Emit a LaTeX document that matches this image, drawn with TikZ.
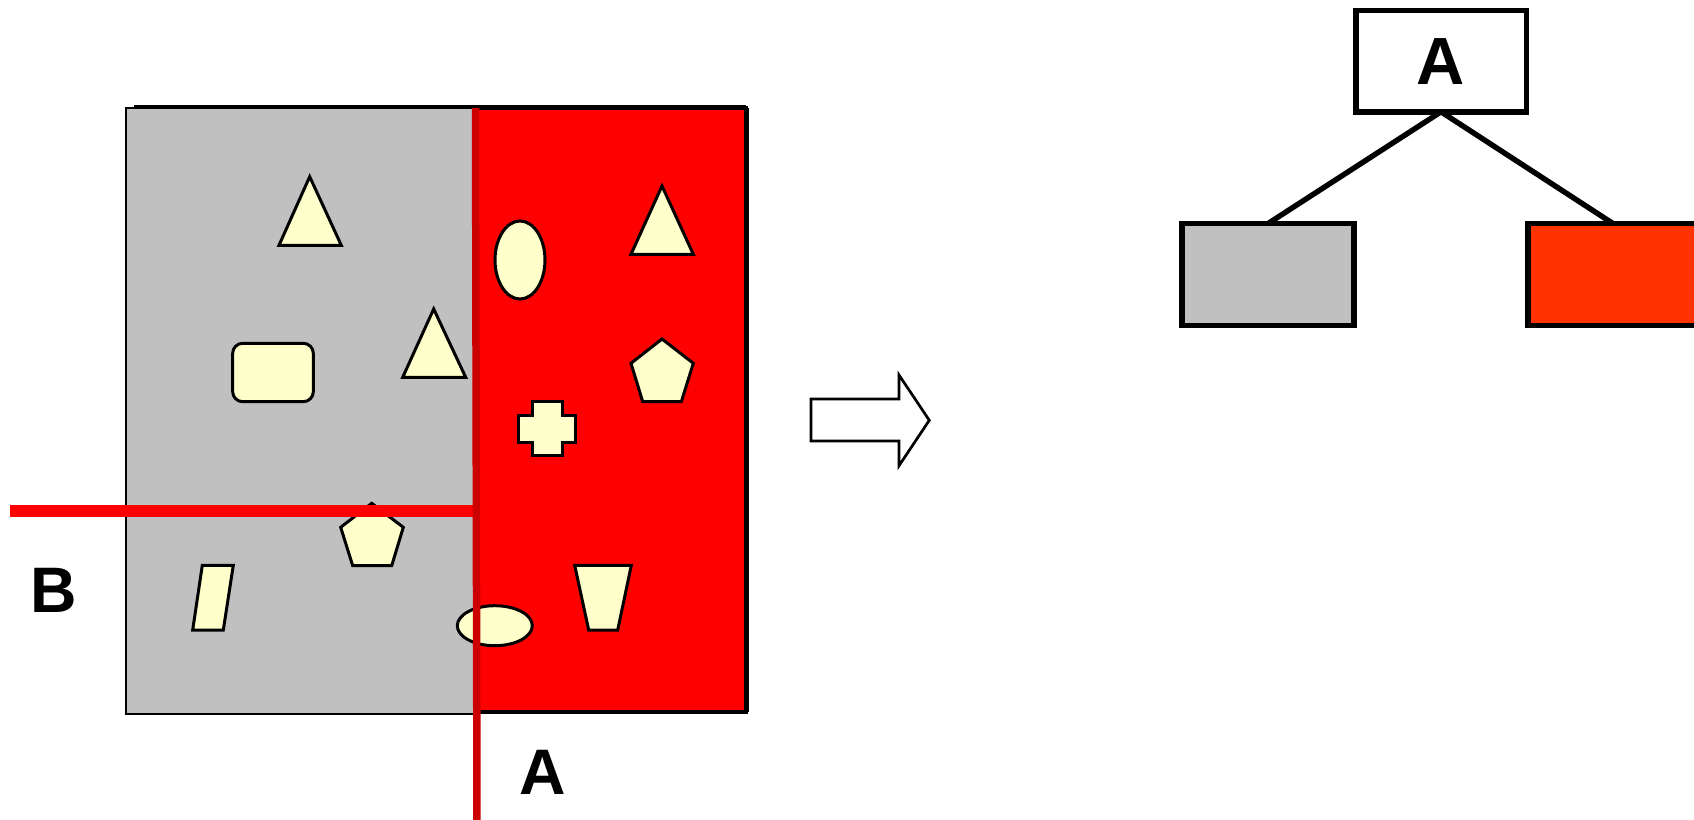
\documentclass[tikz,border=0pt]{standalone}
\usepackage{fontspec}
\setsansfont{Liberation Sans}
\usetikzlibrary{calc,positioning}

\definecolor{leafgray}{HTML}{C0C0C0}
\definecolor{leafred}{HTML}{FF0000}
\definecolor{treered}{HTML}{FF3300}
\definecolor{cutred}{HTML}{CC0000}
\definecolor{lightyellow}{HTML}{FFFFCC}

\tikzset{
    piece/.style={draw=black, fill=lightyellow, line width=0.03cm, line join=miter},
    cutlabel/.style={font=\sffamily\bfseries\fontsize{18.3}{22}\selectfont, inner sep=0pt},
    treebox/.style={draw=black, line width=0.054cm, inner sep=0pt, outer sep=0pt,
        minimum width=1.717cm, minimum height=1.017cm}
}

\begin{document}
\begin{tikzpicture}
    \useasboundingbox (0,0) rectangle (16.94,8.19);

    % Regions of the split space
    \draw[fill=leafgray, line width=0.02cm] (1.26,1.05) rectangle (4.76,7.11);
    \draw[fill=leafred, line width=0.04cm] (4.76,1.07) rectangle (7.46,7.11);
    \draw[line width=0.05cm] (7.46,1.07) -- (7.46,7.11);
    \draw[line width=0.035cm] (1.34,7.12) -- (7.46,7.12);

    % Objects in the grey half
    \draw[piece] (3.097,6.423) -- (3.413,5.737) -- (2.79,5.737) -- cycle;
    \draw[piece, rounded corners=0.1cm] (2.327,4.173) rectangle (3.133,4.757);
    \draw[piece] (4.337,5.10) -- (4.657,4.417) -- (4.027,4.417) -- cycle;
    \draw[piece] (3.717,3.157) -- (4.033,2.917) -- (3.917,2.533) -- (3.527,2.533) -- (3.407,2.917) -- cycle;
    \draw[piece] (2.023,2.537) -- (2.333,2.537) -- (2.233,1.89) -- (1.927,1.89) -- cycle;

    % Objects in the red half
    \draw[piece] (5.20,5.59) ellipse (0.25 and 0.39);
    \draw[piece] (6.62,6.33) -- (6.933,5.647) -- (6.31,5.647) -- cycle;
    \draw[piece] (6.62,4.80) -- (6.933,4.557) -- (6.813,4.173) -- (6.427,4.173) -- (6.31,4.557) -- cycle;
    \draw[piece] (5.323,4.173) -- (5.62,4.173) -- (5.62,4.04) -- (5.753,4.04) -- (5.753,3.77)
        -- (5.62,3.77) -- (5.62,3.633) -- (5.323,3.633) -- (5.323,3.77) -- (5.187,3.77)
        -- (5.187,4.04) -- (5.323,4.04) -- cycle;
    \draw[piece] (5.747,2.537) -- (6.313,2.537) -- (6.177,1.89) -- (5.887,1.89) -- cycle;
    \draw[piece] (4.948,1.933) ellipse (0.375 and 0.20);

    % Cutting lines B and A
    \draw[leafred, line width=0.12cm] (0.10,3.08) -- (4.75,3.08);
    \draw[cutred, line width=0.075cm] (4.755,7.11) -- (4.77,-0.1);
    \node[cutlabel] (labB) at (0.535,2.29) {B};
    \node[cutlabel] (labA) at (5.425,0.465) {A};

    % Block arrow
    \draw[line width=0.027cm, fill=white] (8.11,4.20) -- (8.99,4.20) -- (8.99,4.44) -- (9.293,3.987)
        -- (8.99,3.533) -- (8.99,3.78) -- (8.11,3.78) -- cycle;

    % Resulting tree
    \node[treebox, fill=white, font=\sffamily\bfseries\fontsize{19}{23}\selectfont,
        minimum width=1.704cm, minimum height=1.01cm] (rootA) at (14.41,7.577) {A};
    \node[treebox, fill=leafgray] (left) at (12.68,5.446) {};
    \node[treebox, fill=treered, minimum width=2.2cm, anchor=west] (right) at (15.278,5.446) {};
    \draw[line width=0.054cm] (rootA.south) -- (left.north);
    \draw[line width=0.054cm] (rootA.south) -- ([xshift=-0.248cm]right.north);

\end{tikzpicture}
\end{document}
